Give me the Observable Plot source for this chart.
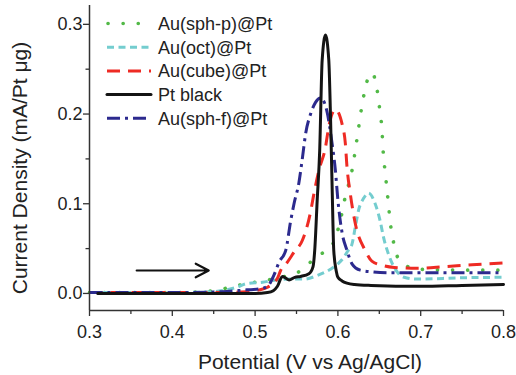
<!DOCTYPE html>
<html><head><meta charset="utf-8">
<script src="https://cdn.jsdelivr.net/npm/d3@7"></script>
<script src="https://cdn.jsdelivr.net/npm/@observablehq/plot@0.6"></script>
<style>
body{margin:0;background:#fff}
#chart{width:516px;height:375px;overflow:hidden}
svg{font-family:"Liberation Sans",Arial,sans-serif}
</style>
</head><body><div id="chart"></div>
<script>
// ---- data ----
const seriesNames = ["Au(sph-p)@Pt","Au(oct)@Pt","Au(cube)@Pt","Pt black","Au(sph-f)@Pt"];

const vSphP = [0.30,0.40,0.45,0.470,0.490,0.510,0.531,0.549,0.567,0.583,0.591,0.597,0.603,0.607,0.612,0.617,0.623,0.629,0.635,0.641,0.647,0.650,0.653,0.655,0.657,0.659,0.661,0.663,0.666,0.670,0.678,0.698,0.75,0.80];
const iSphP = [0.001,0.001,0.003,0.007,0.011,0.014,0.018,0.022,0.035,0.046,0.050,0.063,0.081,0.100,0.118,0.137,0.172,0.209,0.236,0.246,0.229,0.209,0.185,0.154,0.136,0.118,0.100,0.081,0.063,0.046,0.033,0.027,0.026,0.026];

const vOct = [0.30,0.40,0.45,0.470,0.478,0.490,0.509,0.525,0.543,0.559,0.575,0.591,0.600,0.607,0.611,0.617,0.621,0.625,0.631,0.637,0.645,0.651,0.655,0.661,0.670,0.680,0.696,0.75,0.80];
const iOct = [0.001,0.001,0.002,0.005,0.007,0.011,0.0125,0.015,0.016,0.016,0.020,0.027,0.033,0.040,0.046,0.055,0.074,0.093,0.106,0.112,0.100,0.081,0.063,0.044,0.026,0.018,0.016,0.0175,0.018];

const vCube = [0.30,0.40,0.46,0.49,0.505,0.515,0.527,0.531,0.539,0.547,0.557,0.567,0.571,0.577,0.585,0.589,0.597,0.605,0.609,0.611,0.615,0.621,0.633,0.641,0.655,0.668,0.696,0.730,0.762,0.80];
const iCube = [0.001,0.001,0.001,0.002,0.004,0.007,0.017,0.026,0.035,0.046,0.059,0.091,0.111,0.137,0.163,0.186,0.205,0.189,0.167,0.141,0.111,0.078,0.048,0.036,0.031,0.029,0.028,0.030,0.032,0.034];

const vBlack = [0.31,0.45,0.50,0.515,0.522,0.527,0.533,0.541,0.548,0.555,0.565,0.570,0.572,0.575,0.578,0.581,0.585,0.589,0.591,0.593,0.595,0.598,0.600,0.605,0.611,0.62,0.64,0.70,0.75,0.80];
const iBlack = [0.000,0.000,0.000,0.001,0.003,0.008,0.019,0.015,0.018,0.019,0.022,0.030,0.048,0.104,0.159,0.260,0.288,0.260,0.200,0.120,0.048,0.025,0.018,0.014,0.0115,0.010,0.009,0.008,0.009,0.010];

const vSphF = [0.30,0.40,0.46,0.49,0.505,0.515,0.523,0.529,0.537,0.543,0.547,0.553,0.557,0.561,0.567,0.573,0.579,0.584,0.587,0.593,0.597,0.600,0.605,0.611,0.617,0.627,0.643,0.664,0.70,0.75,0.80];
const iSphF = [0.001,0.001,0.002,0.004,0.005,0.008,0.021,0.035,0.048,0.081,0.100,0.124,0.150,0.178,0.200,0.213,0.218,0.212,0.202,0.167,0.137,0.104,0.068,0.048,0.033,0.026,0.024,0.023,0.023,0.023,0.023];

const xTicks = [0.3,0.4,0.5,0.6,0.7,0.8];
const xMinorTicks = [0.35,0.45,0.55,0.65,0.75];
const yTicks = [0.0,0.1,0.2,0.3];
const yMinorTicks = [0.05,0.15,0.25];
const arrowV = [0.357,0.444];
const arrowI = [0.0256,0.0256];

// ---- styles ----
const styles = {
  "Au(sph-p)@Pt": {stroke:"#52b947", strokeWidth:3.6, dash:"0.1,15", cap:"round"},
  "Au(oct)@Pt":   {stroke:"#74cdcf", strokeWidth:3, dash:"7,4.5", cap:"butt"},
  "Au(cube)@Pt":  {stroke:"#ee2b24", strokeWidth:3, dash:"13,8", cap:"butt"},
  "Pt black":     {stroke:"#141414", strokeWidth:3, dash:null, cap:"round"},
  "Au(sph-f)@Pt": {stroke:"#2c2a8e", strokeWidth:3, dash:"13,5,3,5", cap:"butt"}
};
const seriesData = {
  "Au(sph-p)@Pt": [vSphP,iSphP],
  "Au(oct)@Pt": [vOct,iOct],
  "Au(cube)@Pt": [vCube,iCube],
  "Pt black": [vBlack,iBlack],
  "Au(sph-f)@Pt": [vSphF,iSphF]
};
const drawOrder = ["Au(sph-p)@Pt","Au(oct)@Pt","Au(cube)@Pt","Au(sph-f)@Pt","Pt black"];

const rows = name => seriesData[name][0].map((v,k)=>({v, i: seriesData[name][1][k]}));
const arrowRow = [{x1:arrowV[0], x2:arrowV[1], y1:arrowI[0], y2:arrowI[1]}];

const axisColor = "#333";
const fmt = d3.format(".1f");

const plot = Plot.plot({
  width: 516, height: 375,
  marginLeft: 89, marginRight: 13, marginTop: 5, marginBottom: 65,
  style: {fontFamily: '"Liberation Sans", Arial, sans-serif', fontSize: "18px", color: "#222", background: "#fff"},
  x: {domain: [0.3, 0.8], label: null},
  y: {domain: [-0.019, 0.321], label: null},
  marks: [
    ...drawOrder.map(name => Plot.line(rows(name), {
      x: "v", y: "i", curve: "monotone-x",
      stroke: styles[name].stroke, strokeWidth: styles[name].strokeWidth,
      strokeDasharray: styles[name].dash, strokeLinecap: styles[name].cap, strokeLinejoin: "round"
    })),
    Plot.arrow(arrowRow, {x1:"x1", x2:"x2", y1:"y1", y2:"y2", stroke:"#111", strokeWidth:2.2, headLength:10, headAngle:55}),
    Plot.axisX({ticks: xTicks, tickSize: 6, tickPadding: 9, tickFormat: fmt, stroke: axisColor, fontSize: 18, strokeWidth: 1.3}),
    Plot.axisX({ticks: xMinorTicks, tickSize: 4, text: null, stroke: axisColor, strokeWidth: 1.3}),
    Plot.axisY({ticks: yTicks, tickSize: 6, tickPadding: 1, tickFormat: fmt, stroke: axisColor, fontSize: 18, strokeWidth: 1.3}),
    Plot.axisY({ticks: yMinorTicks, tickSize: 3.5, text: null, stroke: axisColor, strokeWidth: 1.3}),
    Plot.ruleY([-0.019], {stroke: axisColor, strokeWidth: 1.5}),
    Plot.ruleX([0.3], {stroke: axisColor, strokeWidth: 1.5})
  ]
});

const svg = d3.select(plot);
// axis titles
svg.append("text")
  .attr("x", 310).attr("y", 369)
  .attr("text-anchor", "middle")
  .attr("font-size", 21).attr("fill", "#222")
  .text("Potential (V vs Ag/AgCl)");
svg.append("text")
  .attr("transform", "translate(27,168) rotate(-90)")
  .attr("text-anchor", "middle")
  .attr("font-size", 21).attr("fill", "#222")
  .text("Current Density (mA/Pt μg)");

// legend
const lg = svg.append("g").attr("text-anchor", "start");
seriesNames.forEach((name, k) => {
  const y = 23.5 + k * 23.7;
  const s = styles[name];
  const ln = lg.append("line")
    .attr("x1", name === "Au(sph-p)@Pt" ? 108 : 107).attr("x2", 151)
    .attr("y1", y).attr("y2", y)
    .attr("stroke", s.stroke).attr("stroke-width", s.strokeWidth)
    .attr("stroke-linecap", s.cap);
  if (s.dash) ln.attr("stroke-dasharray", s.dash);
  lg.append("text")
    .attr("x", 158).attr("y", y).attr("dy", "0.35em")
    .attr("text-anchor", "start")
    .attr("font-size", 18).attr("fill", "#222")
    .text(name);
});

document.getElementById("chart").appendChild(plot);
</script>
</body></html>
